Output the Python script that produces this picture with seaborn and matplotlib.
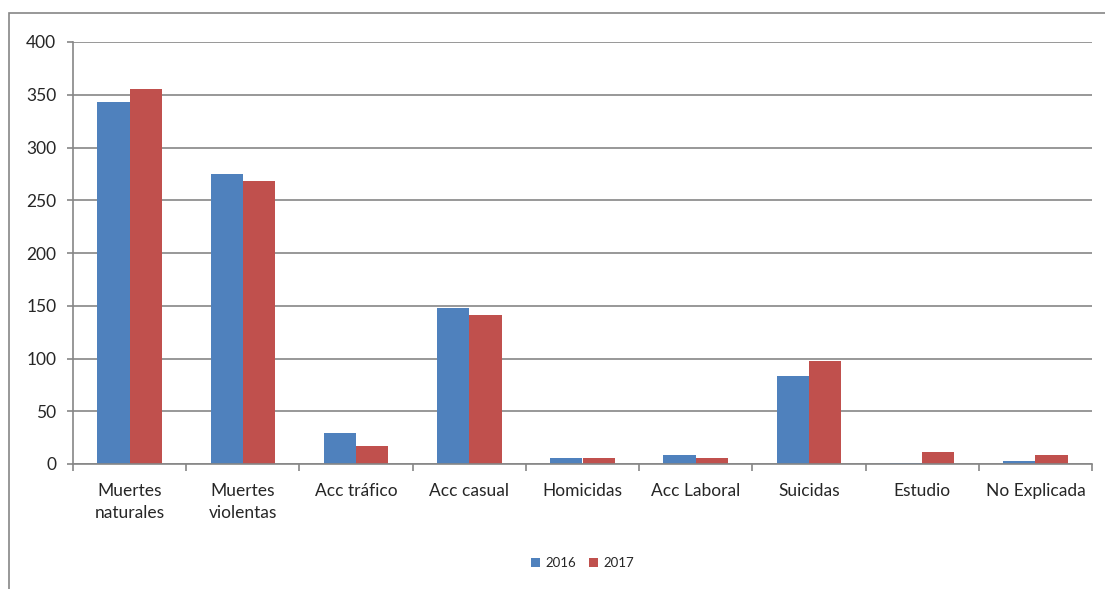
import pandas as pd
import matplotlib.pyplot as plt
import seaborn as sns
from matplotlib.patches import Rectangle

categorias = ["Muertes\nnaturales", "Muertes\nviolentas", "Acc tráfico", "Acc casual",
              "Homicidas", "Acc Laboral", "Suicidas", "Estudio", "No Explicada"]
valores_2016 = [343, 275, 29, 148, 6, 9, 83, 1, 3]
valores_2017 = [355, 268, 17, 141, 6, 6, 98, 11, 9]
years = ["2016", "2017"]

df = pd.DataFrame({
    "categoria": categorias * 2,
    "anio": [years[0]] * len(categorias) + [years[1]] * len(categorias),
    "valor": valores_2016 + valores_2017,
})

sns.set_style("white")
plt.rcParams["font.family"] = ["Lato", "DejaVu Sans"]

fig = plt.figure(figsize=(11.05, 5.89), dpi=100)
ax = fig.add_axes([73 / 1105, 1 - 464 / 589, (1092 - 73) / 1105, (464 - 42) / 589])

grey = "#868686"
sns.barplot(data=df, x="categoria", y="valor", hue="anio", order=categorias,
            palette=["#4F81BD", "#C0504D"], saturation=1, width=0.57, gap=0, ax=ax,
            edgecolor="none", legend=True)

ax.set_ylim(0, 400)
ax.set_xlim(-0.5, len(categorias) - 0.5)
ax.set_yticks(range(0, 401, 50))
ax.yaxis.grid(True, color=grey, linewidth=1.2)
ax.set_axisbelow(True)
ax.set_xlabel("")
ax.set_ylabel("")

for side in ["top", "right"]:
    ax.spines[side].set_visible(False)
for side in ["left", "bottom"]:
    ax.spines[side].set_color(grey)
    ax.spines[side].set_linewidth(1.2)

# category boundary ticks on the x axis
ax.set_xticks([i - 0.5 for i in range(len(categorias) + 1)], minor=True)
ax.tick_params(axis="x", which="minor", length=5, color=grey, width=1.2)
ax.tick_params(axis="x", which="major", length=0, labelsize=12.5, pad=14)
ax.tick_params(axis="y", length=4, color=grey, width=1.2, labelsize=12.5, pad=8)
ax.tick_params(axis="y", left=True)
ax.tick_params(axis="x", bottom=True, which="minor")
for lbl in ax.get_xticklabels():
    lbl.set_linespacing(1.45)

leg = ax.legend(loc="center", bbox_to_anchor=(0.5, -0.235), ncol=2, frameon=False,
                handlelength=0.7, handleheight=0.7, handletextpad=0.4, columnspacing=1.0,
                fontsize=9.5)

# outer chart border
fig.patches.append(Rectangle((9 / 1105, -0.01), 1.02, 1 - 13 / 589 + 0.01,
                             transform=fig.transFigure, fill=False,
                             edgecolor=grey, linewidth=1.2))

fig.savefig("out.png", dpi=100)
